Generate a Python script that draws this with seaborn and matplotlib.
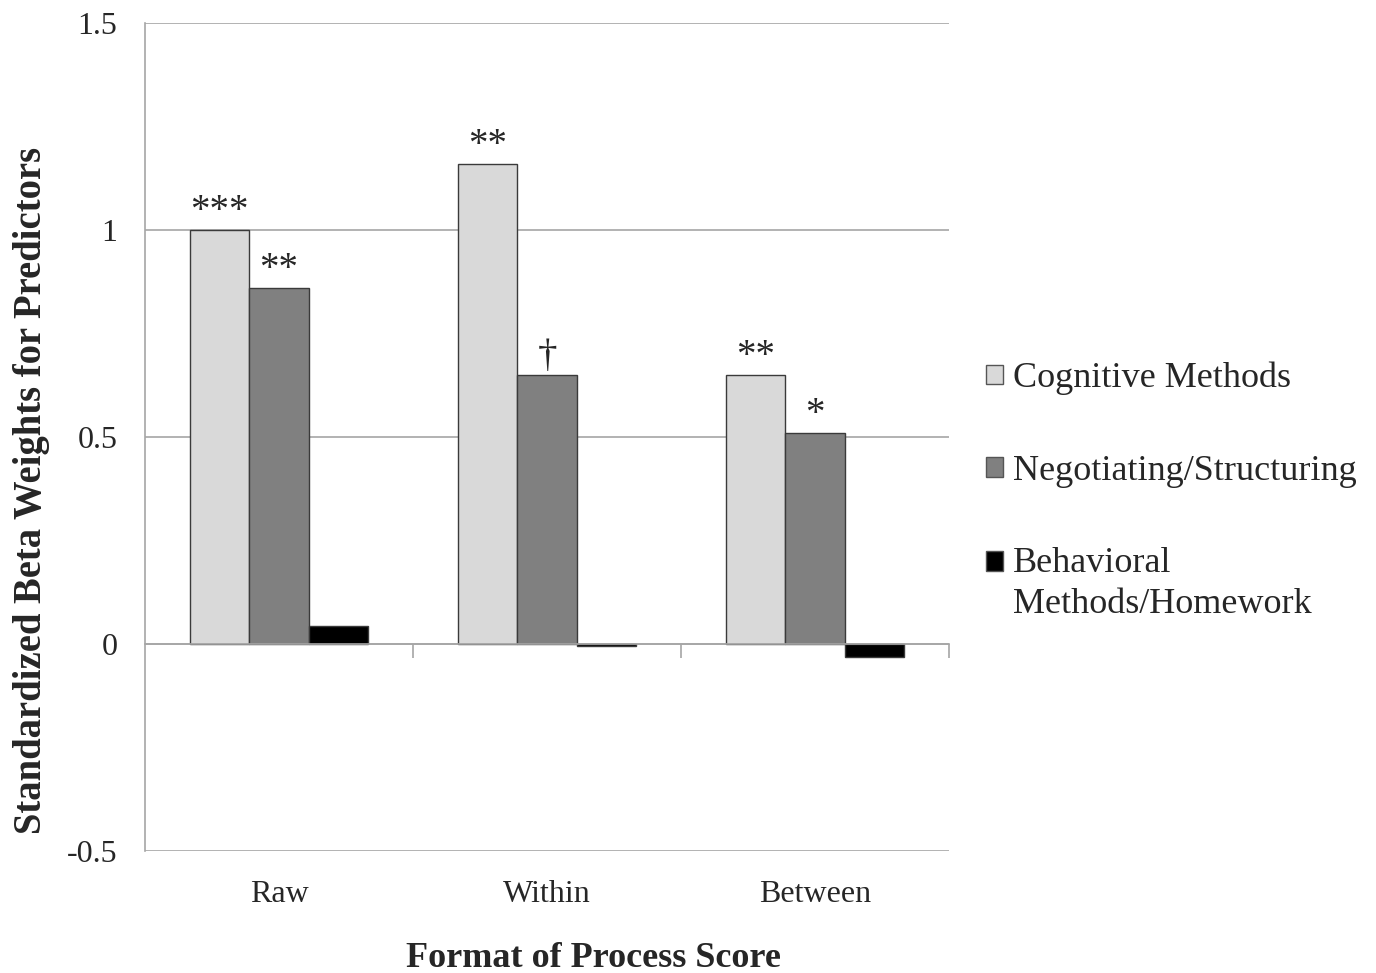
import pandas as pd
import numpy as np
import seaborn as sns
import matplotlib.pyplot as plt
from matplotlib.patches import Rectangle
from matplotlib.legend_handler import HandlerPatch

formats = ["Raw", "Within", "Between"]
predictors = ["Cognitive Methods", "Negotiating/Structuring", "Behavioral\nMethods/Homework"]
cognitive = [1.00, 1.16, 0.65]
negotiating = [0.86, 0.65, 0.51]
behavioral = [0.043, -0.006, -0.031]
stars_cognitive = ["***", "**", "**"]
stars_negotiating = ["**", "\u2020", "*"]
stars_behavioral = ["", "", ""]

df = pd.DataFrame({
    "format": formats * 3,
    "predictor": [predictors[0]] * 3 + [predictors[1]] * 3 + [predictors[2]] * 3,
    "beta": cognitive + negotiating + behavioral,
})

sns.set_style("white")
plt.rcParams['font.family'] = ['Liberation Serif', 'DejaVu Serif']

fig = plt.figure(figsize=(13.76, 9.73), dpi=100)
ax = fig.add_axes([0.1054, 0.1254, 0.5843, 0.851])

palette = ["#d9d9d9", "#808080", "#000000"]
sns.barplot(data=df, x="format", y="beta", hue="predictor", order=formats,
            hue_order=predictors, palette=palette, width=0.664,
            edgecolor="#3a3a3a", linewidth=1.0, saturation=1, ax=ax, zorder=3)

for cont, labs in zip(ax.containers, [stars_cognitive, stars_negotiating, stars_behavioral]):
    ax.bar_label(cont, labels=labs, padding=0, fontsize=28)

ax.set_ylim(-0.5, 1.5)
ax.set_xlim(-0.5, 2.5)
ax.set_yticks([-0.5, 0, 0.5, 1, 1.5])
ax.set_yticklabels(["-0.5", "0", "0.5", "1", "1.5"], fontsize=23)
ax.yaxis.grid(True, color="#a6a6a6", linewidth=1.2, zorder=0)
ax.set_axisbelow(True)
ax.tick_params(axis="y", length=10, width=1.2, color="#a6a6a6", pad=10)

# category axis sits at zero, group boundaries marked with minor ticks
ax.spines["bottom"].set_position(("data", 0))
ax.spines["bottom"].set_color("#a6a6a6")
ax.spines["bottom"].set_linewidth(1.2)
ax.spines["bottom"].set_zorder(4)
ax.set_xticks([0.5, 1.5, 2.5], minor=True)
ax.tick_params(axis="x", which="minor", length=10, width=1.2, color="#a6a6a6", bottom=True)
ax.tick_params(axis="x", which="major", length=0, pad=170, labelsize=23)
ax.spines["left"].set_color("#a6a6a6")
ax.spines["left"].set_linewidth(1.2)
ax.spines["top"].set_visible(False)
ax.spines["right"].set_visible(False)

ax.set_xlabel("")
ax.set_ylabel("Standardized Beta Weights for Predictors", fontsize=27.8,
              fontweight="bold")
ax.yaxis.set_label_coords(-0.118, 0.436)
fig.text(0.431, 0.015, "Format of Process Score", fontsize=26, fontweight="bold",
         ha="center", va="center")


def square_handle(legend, orig_handle, xdescent, ydescent, width, height, fontsize):
    shift = 0.0
    if "\n" in orig_handle.get_label():
        shift = 0.65 * fontsize
    return Rectangle((-xdescent, -ydescent + shift), width, height)


handles, labels = ax.get_legend_handles_labels()
for h, lab in zip(handles, labels):
    h.set_label(lab)
leg = ax.legend(handles, labels, loc="center left", bbox_to_anchor=(1.005, 0.434),
                frameon=False, fontsize=26, handlelength=0.47, handleheight=0.47,
                handletextpad=0.3, labelspacing=1.65,
                handler_map={h: HandlerPatch(patch_func=square_handle) for h in handles})
for h in leg.legend_handles:
    h.set_edgecolor("#555555")
for t in leg.get_texts():
    t.set_linespacing(1.32)

fig.savefig("out.png", dpi=100)
